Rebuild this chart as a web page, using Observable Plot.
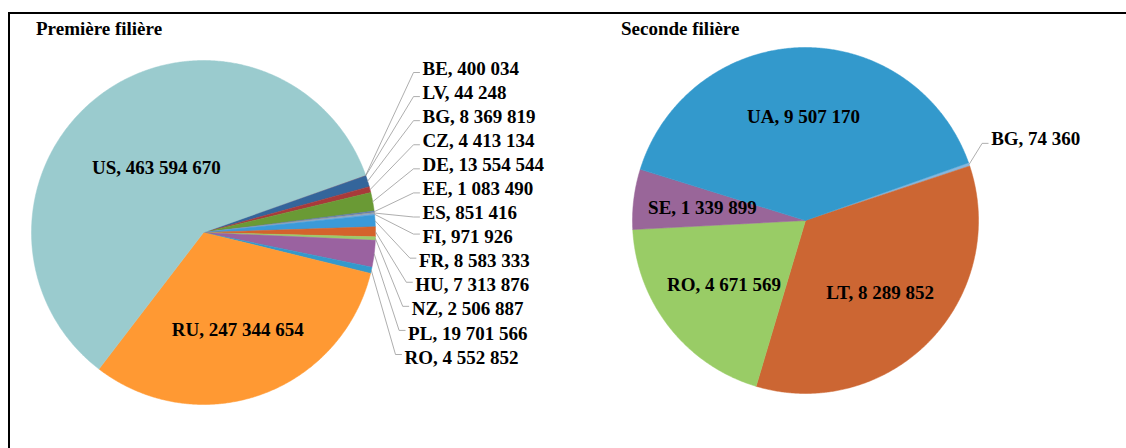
<!DOCTYPE html>
<html><head><meta charset="utf-8">
<script src="https://cdn.jsdelivr.net/npm/d3@7"></script>
<script src="https://cdn.jsdelivr.net/npm/@observablehq/plot@0.6"></script>
<style>
html,body{margin:0;padding:0;background:#fff;}
body{overflow:hidden;width:1126px;height:448px;position:relative;font-family:"Liberation Serif","Times New Roman",serif;}
#chart{position:absolute;left:0;top:0;}
#frame{position:absolute;left:8px;top:12px;width:1300px;height:700px;border:2px solid #000;box-sizing:border-box;pointer-events:none;}
.title{position:absolute;top:18px;font-weight:bold;font-size:19px;line-height:22px;color:#000;white-space:nowrap;}
</style></head><body>
<div id="chart"></div>
<div id="frame"></div>
<div class="title" style="left:36px">Première filière</div>
<div class="title" style="left:621px">Seconde filière</div>
<script>
// ---- data ----
const countries1 = ["BE","LV","BG","CZ","DE","EE","ES","FI","FR","HU","NZ","PL","RO","RU","US"];
const values1 = [400034,44248,8369819,4413134,13554544,1083490,851416,971926,8583333,7313876,2506887,19701566,4552852,247344654,463594670];
const colors1 = ["#4A7EBB","#BE4B48","#34659B","#A83A3A","#6A9A35","#5E7BAE","#9A9A9A","#7DA7D2","#3A9AD9","#D4632C","#9BCB6A","#9A62A0","#3399CC","#FF9933","#9ACBCE"];

const countries2 = ["BG","LT","RO","SE","UA"];
const values2 = [74360,8289852,4671569,1339899,9507170];
const colors2 = ["#86B7DE","#CC6633","#99CC66","#996699","#3399CC"];

// ---- layout ----
const W = 1126, H = 448;
const startAngle = 70.5 * Math.PI / 180;
const pies = [
  {id:"p1", names:countries1, values:values1, colors:colors1, cx:203, cy:232, r:172, inner:0.6, column:{top:68, bottom:357, x:422}},
  {id:"p2", names:countries2, values:values2, colors:colors2, cx:805, cy:220, r:173, inner:0.6, column:null}
];
const fmt = v => d3.format(",")(v).replace(/,/g, "\u00a0");

const slicePts = [], insideLabels = [], outsideLabels = [], leaders = [];
for (const p of pies) {
  const rows = p.names.map((n, i) => ({name:n, value:p.values[i], color:p.colors[i]}));
  const arcs = d3.pie().sort(null).value(d => d.value).startAngle(startAngle).endAngle(startAngle + 2*Math.PI)(rows);
  const pt = (a, rr) => ({x: p.cx + rr*Math.sin(a), y: p.cy - rr*Math.cos(a)});
  const outs = [];
  for (const a of arcs) {
    const key = p.id + a.data.name;
    slicePts.push({key, color:a.data.color, x:p.cx, y:p.cy});
    const n = Math.max(2, Math.ceil((a.endAngle - a.startAngle) / (0.4*Math.PI/180)));
    for (let k = 0; k <= n; k++) {
      const q = pt(a.startAngle + (a.endAngle - a.startAngle)*k/n, p.r);
      slicePts.push({key, color:a.data.color, ...q});
    }
    slicePts.push({key, color:a.data.color, x:p.cx, y:p.cy});
    const mid = (a.startAngle + a.endAngle)/2;
    const span = a.endAngle - a.startAngle;
    const label = `${a.data.name}, ${fmt(a.data.value)}`;
    if (span > 15*Math.PI/180) {
      const f = p.inner * Math.min(1, Math.pow(Math.PI / span, 1.5));
      insideLabels.push({label, ...pt(mid, p.r*f)});
    } else {
      outs.push({label, key, edge:pt(mid, p.r)});
    }
  }
  outs.forEach((o, i) => {
    let lx, ly;
    if (p.column && outs.length > 1) {
      ly = p.column.top + (p.column.bottom - p.column.top) * i / (outs.length - 1);
      lx = p.column.x - Math.max(0, ly - 237) * 0.15;
    } else {
      lx = o.edge.x + 22; ly = o.edge.y - 25;
    }
    outsideLabels.push({label:o.label, x:lx, y:ly});
    const off = ly < p.cy ? 4 : -3;
    leaders.push({key:o.key, x:o.edge.x, y:o.edge.y});
    leaders.push({key:o.key, x:lx - 9, y:ly + off});
    leaders.push({key:o.key, x:lx - 3, y:ly + off});
  });
}

const chart = Plot.plot({
  width: W, height: H,
  margin: 0,
  x: {domain:[0, W], range:[0, W], axis:null},
  y: {domain:[0, H], range:[0, H], axis:null},
  color: {type:"identity"},
  style: {fontFamily:"'Liberation Serif','Times New Roman',serif", background:"transparent", overflow:"visible"},
  marks: [
    Plot.line(slicePts, {x:"x", y:"y", z:"key", fill:"color", stroke:"color", strokeWidth:0.5, curve:"linear"}),
    Plot.line(leaders, {x:"x", y:"y", z:"key", stroke:"#999999", strokeWidth:0.8, curve:"linear"}),
    Plot.text(insideLabels, {x:"x", y:"y", text:"label", fontSize:19, fontWeight:"bold", fill:"#000"}),
    Plot.text(outsideLabels, {x:"x", y:"y", text:"label", textAnchor:"start", fontSize:19, fontWeight:"bold", fill:"#000"})
  ]
});
document.getElementById("chart").appendChild(chart);
</script>
</body></html>
